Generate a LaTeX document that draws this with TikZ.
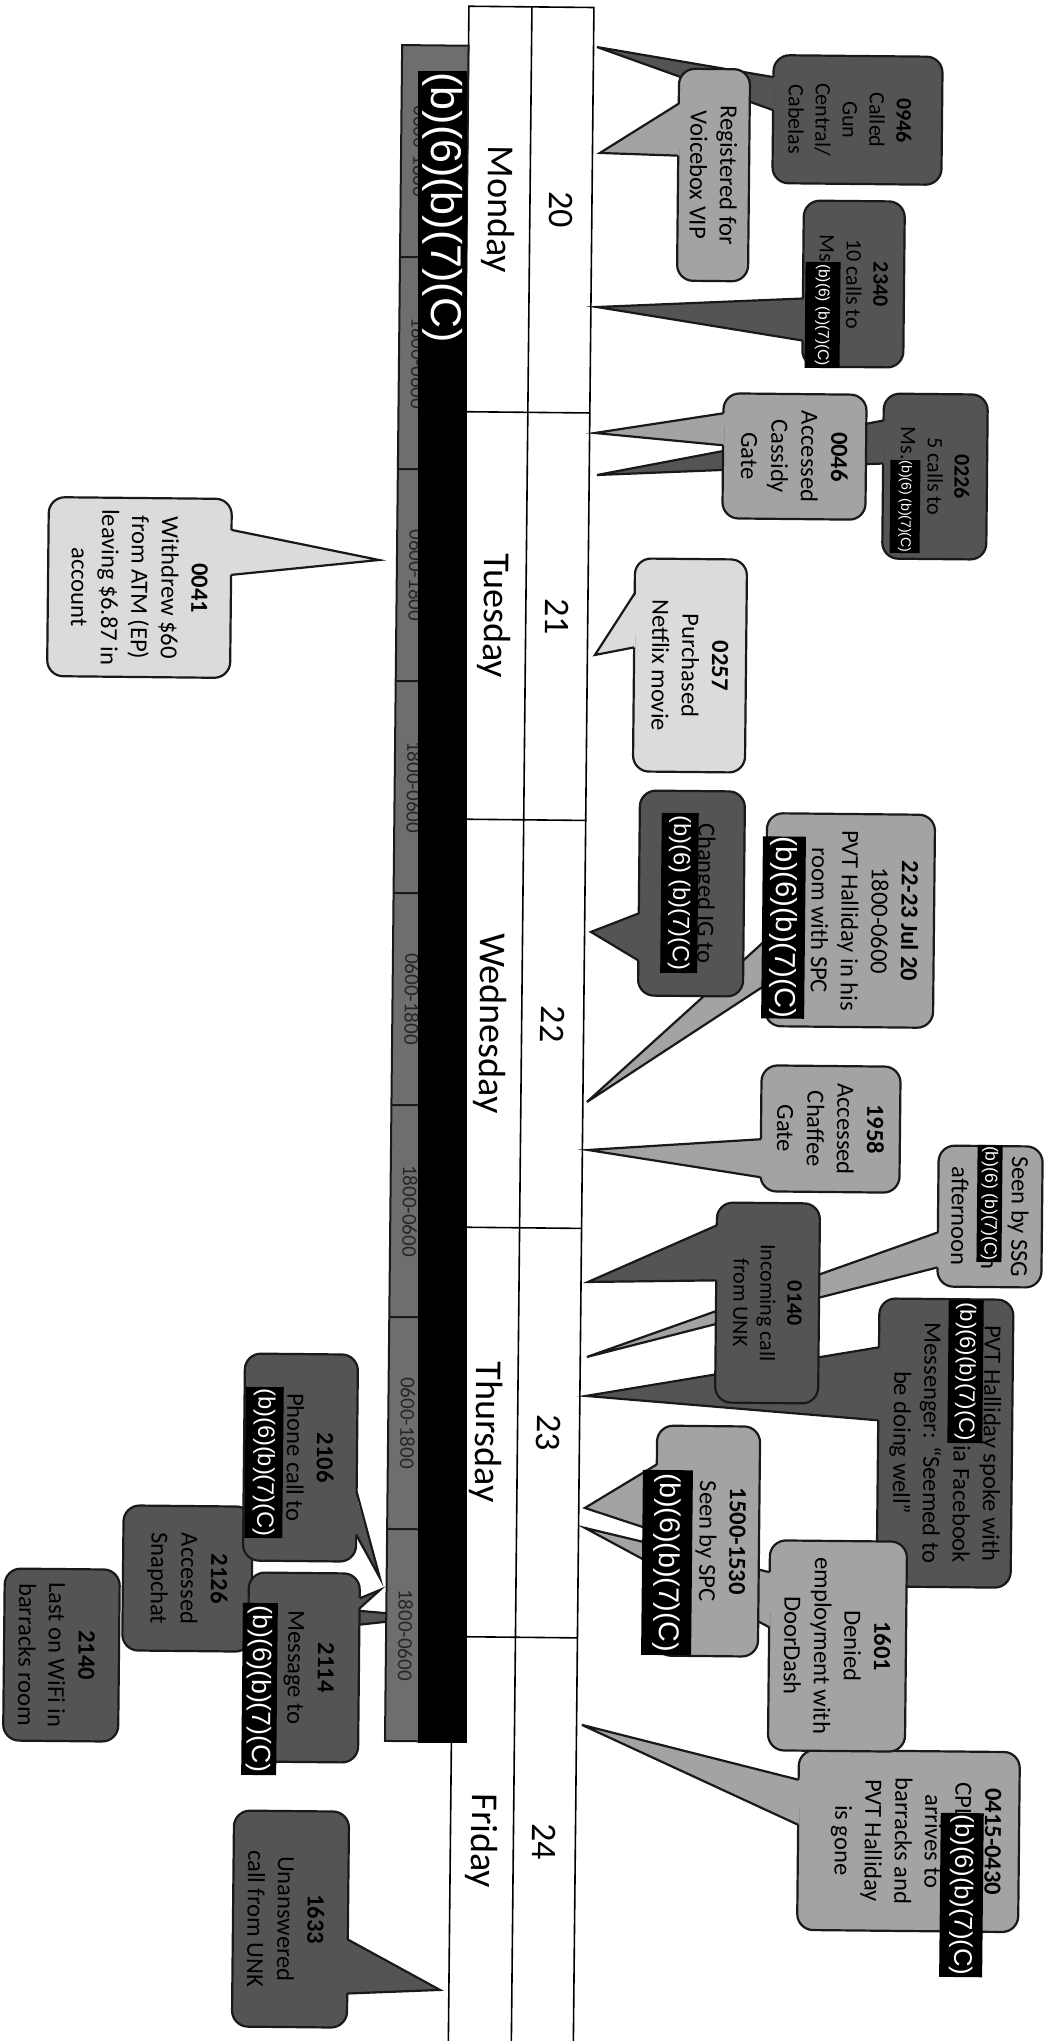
\documentclass[tikz,border=0pt]{standalone}
\usepackage{fontspec}
\setmainfont{Carlito}
\newfontfamily\redactfont{Liberation Sans}
\usetikzlibrary{calc}

\definecolor{calldark}{gray}{0.33}
\definecolor{calllight}{gray}{0.64}
\definecolor{callpale}{gray}{0.86}
\definecolor{bargray}{gray}{0.43}
\definecolor{inkgray}{gray}{0.1}

% pointer of a callout: node, corner, from, to, tip, colour, inward shift
\newcommand{\calltail}[7]{%
  \fill[#6] ($(#1.#2)+(#3,#7)$) -- (#5) -- ($(#1.#2)+(#4,#7)$) -- cycle;
  \draw[tailedge] ($(#1.#2)+(#3,0)$) -- (#5) -- ($(#1.#2)+(#4,0)$);
}

\tikzset{
  stripline/.style={draw=black, line width=1.6pt},
  barline/.style={draw=inkgray, line width=2pt},
  dayname/.style={font={\fontsize{38}{38}\selectfont}},
  daydate/.style={font={\fontsize{36}{36}\selectfont}},
  blocklabel/.style={text=black!85, font={\fontsize{21}{21}\selectfont}},
  callbox/.style={draw=inkgray, line width=2.2pt, rounded corners=16pt,
    inner sep=0pt, outer sep=0pt, align=flush center,
    font={\fontsize{24.5}{30}\selectfont}},
  smalltext/.style={font={\fontsize{22}{27}\selectfont}},
  boxsize/.style n args={2}{minimum width=#1pt, minimum height=#2pt},
  darkcall/.style={callbox, fill=calldark},
  lightcall/.style={callbox, fill=calllight},
  palecall/.style={callbox, fill=callpale},
  tailedge/.style={draw=inkgray, line width=2.2pt},
  redbox/.style n args={3}{fill=black, text=white, inner sep=0pt, outer sep=0pt,
    minimum width=#1pt, minimum height=#2pt,
    font={\redactfont\fontsize{#3}{#3}\selectfont}},
}

\begin{document}
\begin{tikzpicture}[x=1pt, y=1pt]
\useasboundingbox (0,0) rectangle (1052,-2041);

\begin{scope}[rotate=-90.58, transform shape]

% day strip
\draw[stripline, fill=white] (1.5,469) rectangle (2100,594);
\draw[stripline] (1.5,532) -- (2100,532);
\foreach \pos in {407,814.5,1222.5,1632}
  \draw[stripline] (\pos,469) -- (\pos,594);
\foreach \dname/\dnum/\pos in {Monday/20/204.3,Tuesday/21/610.8,Wednesday/22/1018.5,Thursday/23/1427.3,Friday/24/1836}
{
  \node[dayname] (day\dnum) at (\pos,500.5) {\dname};
  \node[daydate] (date\dnum) at (\pos,563) {\dnum};
}

% callouts below the strip
\node[darkcall, boxsize={172}{115}] (c2140) at (1654.4,78.2) {\rule{0pt}{26pt}\textbf{2140}\\Last on WiFi in\\barracks room};

\node[darkcall, boxsize={145}{129}] (c2126) at (1576.6,203.4) {\textbf{2126}\\Accessed\\Snapchat};
\coordinate (t2126) at (1612.7,446.3);
\calltail{c2126}{north west}{95}{130}{t2126}{calldark}{-1.5}

\node[darkcall, boxsize={207}{113}] (c2106) at (1454.5,315.2) {\rule{0pt}{27pt}\textbf{2106}\\Phone call to\\\mbox{}};
\coordinate (t2106) at (1574.2,395.9);
\calltail{c2106}{north west}{137}{180}{t2106}{calldark}{-1.5}
\node[redbox={151}{38}{23.5}] (r2106) at (1459.8,278.8) {(b)(6)(b)(7)(C)};

\node[darkcall, boxsize={189}{111}] (c2114) at (1664.4,320.3) {\rule{0pt}{31pt}\textbf{2114}\\Message to\\\mbox{}};
\coordinate (t2114) at (1586.2,396.1);
\calltail{c2114}{north west}{25}{35}{t2114}{calldark}{-1.5}
\node[redbox={172}{35}{26.5}] (r2114) at (1686.4,276.6) {(b)(6)(b)(7)(C)};

\node[palecall, boxsize={179}{183}] (c0041) at (586.1,145.4) {\textbf{0041}\\Withdrew \$60\\from ATM (EP)\\leaving \$6.87 in\\account};
\coordinate (t0041) at (556.2,384.7);
\calltail{c0041}{north west}{31}{76}{t0041}{callpale}{-1.5}

\node[darkcall, boxsize={216}{115}] (c1633) at (1916.1,309.9) {\rule{0pt}{26pt}\textbf{1633}\\Unanswered\\call from UNK};
\coordinate (t1633) at (1985.6,460.1);
\calltail{c1633}{north west}{128}{182}{t1633}{calldark}{-1.5}

% shift bar
\draw[barline, fill=bargray] (41,402.6) rectangle (1737,469);
\foreach \k in {1,...,7}
  \draw[barline] ({41+212*\k},402.6) -- ({41+212*\k},469);
\foreach \k/\hours in {0/0600-1800,1/1800-0600,2/0600-1800,3/1800-0600,4/0600-1800,5/1800-0600,6/0600-1800,7/1800-0600}
  \node[blocklabel] (shift\k) at ({147+212*\k},422) {\hours};

% callouts above the strip
\node[darkcall, smalltext, boxsize={128}{169}] (c0946) at (111.3,858.7) {\rule{0pt}{30pt}\textbf{0946}\\Called\\Gun\\Central/\\Cabelas};
\coordinate (t0946) at (41,597.5);
\calltail{c0946}{south west}{22}{55}{t0946}{calldark}{1.5}

\node[lightcall, boxsize={212}{71}] (cVIP) at (167.8,715.3) {Registered for\\Voicebox VIP};
\coordinate (tVIP) at (146.9,601.5);
\calltail{cVIP}{south west}{35}{87}{tVIP}{calllight}{1.5}

\node[darkcall, smalltext, boxsize={166}{101}] (c2340) at (275.4,856.4) {\textbf{2340}\\10 calls to\\Ms\hspace*{71pt}\mbox{}};
\coordinate (t2340) at (301,600.1);
\calltail{c2340}{south west}{98}{140}{t2340}{calldark}{1.5}
\node[redbox={106}{35}{15.5}] (r2340) at (306.7,825.7) {(b)(6) (b)(7)(C)};

\node[darkcall, smalltext, boxsize={165}{104}] (c0226) at (467.1,939.8) {\textbf{0226}\\5 calls to\\Ms.\hspace*{66pt}\mbox{}};
\coordinate (t0226) at (469,601.8);
\calltail{c0226}{south west}{27}{70}{t0226}{calldark}{1.5}
\node[redbox={93}{30}{14}] (r0226) at (497.4,910.1) {(b)(6) (b)(7)(C)};

\node[lightcall, boxsize={125}{143}] (c0046) at (448.5,799.1) {\textbf{0046}\\Accessed\\Cassidy\\Gate};
\coordinate (t0046) at (427,599.4);
\calltail{c0046}{south west}{20}{52}{t0046}{calllight}{1.5}

\node[palecall, boxsize={213}{112}] (c0257) at (658.5,696.7) {\textbf{0257}\\Purchased\\Netflix movie};
\coordinate (t0257) at (649,601.6);
\calltail{c0257}{south west}{35}{89}{t0257}{callpale}{1.5}

\node[lightcall, boxsize={213}{168}] (c2223) at (911.9,859.3) {\textbf{22-23 Jul 20}\\1800-0600\\PVT Halliday in his\\room with SPC\\\mbox{}};
\coordinate (t2223) at (1096.1,598.1);
\calltail{c2223}{south west}{127}{172}{t2223}{calllight}{1.5}
\node[redbox={181}{43}{29}] (r2223) at (919.6,792.9) {(b)(6)(b)(7)(C)};

\node[darkcall, boxsize={205}{105}] (cIG) at (886.5,700.5) {Changed IG to\\\mbox{}};
\coordinate (tIG) at (926,600.4);
\calltail{cIG}{south west}{123}{170}{tIG}{calldark}{1.5}
\node[redbox={160}{37}{23.5}] (rIG) at (886.1,688.5) {(b)(6) (b)(7)(C)};

\node[lightcall, boxsize={126}{139}] (c1958) at (1120.6,841.9) {\textbf{1958}\\Accessed\\Chaffee\\Gate};
\coordinate (t1958) at (1144.1,599.6);
\calltail{c1958}{south west}{74}{112}{t1958}{calllight}{1.5}

\node[lightcall, boxsize={141}{104}] (cSSG) at (1206.5,1002.3) {Seen by SSG\\\hspace*{93pt}n\\afternoon};
\coordinate (tSSG) at (1351.1,600.7);
\calltail{cSSG}{south west}{87}{122}{tSSG}{calllight}{1.5}
\node[redbox={117}{25}{17.5}] (rSSG) at (1193.5,1001.7) {(b)(6) (b)(7)(C)};

\node[darkcall, boxsize={288}{134}] (cFB) at (1433.5,959.6) {PVT Halliday spoke with\\\hspace*{122pt}ia Facebook\\Messenger: “Seemed to\\be doing well”};
\coordinate (tFB) at (1390.1,600.1);
\calltail{cFB}{south west}{49}{122}{tFB}{calldark}{1.5}
\node[redbox={143}{35}{22}] (rFB) at (1361.8,979.4) {(b)(6)(b)(7)(C)};

\node[darkcall, smalltext, boxsize={200}{103}] (c0140) at (1295.2,780.7) {\textbf{0140}\\Incoming call\\from UNK};
\coordinate (t0140) at (1276.1,601);
\calltail{c0140}{south west}{23}{78}{t0140}{calldark}{1.5}

\node[lightcall, boxsize={180}{221}] (c0415) at (1831.8,927.1) {\textbf{0415-0430}\\CPL\hspace*{82pt}\mbox{}\\arrives to\\barracks and\\PVT Halliday\\is gone\rule[-19pt]{0pt}{0pt}};
\coordinate (t0415) at (1719.1,599.4);
\calltail{c0415}{south west}{30}{75}{t0415}{calllight}{1.5}
\node[redbox={164}{43}{25.5}] (rCPL) at (1885.3,980.6) {(b)(6)(b)(7)(C)};

\node[lightcall, boxsize={210}{137}] (c1601) at (1637.5,854.1) {\textbf{1601}\\Denied\\employment with\\DoorDash};
\coordinate (t1601) at (1522.1,600.4);
\calltail{c1601}{south west}{32}{87}{t1601}{calllight}{1.5}

\node[lightcall, boxsize={230}{103}] (c1500) at (1533.9,723.1) {\textbf{1500-1530}\\Seen by SPC\\\mbox{}};
\coordinate (t1500) at (1502.1,600.2);
\calltail{c1500}{south west}{39}{106}{t1500}{calllight}{1.5}
\node[redbox={185}{50}{28.5}] (rSPC) at (1555.8,682.8) {(b)(6)(b)(7)(C)};

\end{scope}

% redaction bar over the shifts
\begin{scope}[rotate=-90, transform shape]
\fill[black] (71,418) rectangle (1743,467);
\node[text=white, inner sep=0pt, font={\redactfont\fontsize{43}{43}\selectfont}] (redbar) at (207.5,442.5) {(b)(6)(b)(7)(C)};
\end{scope}

\end{tikzpicture}
\end{document}
